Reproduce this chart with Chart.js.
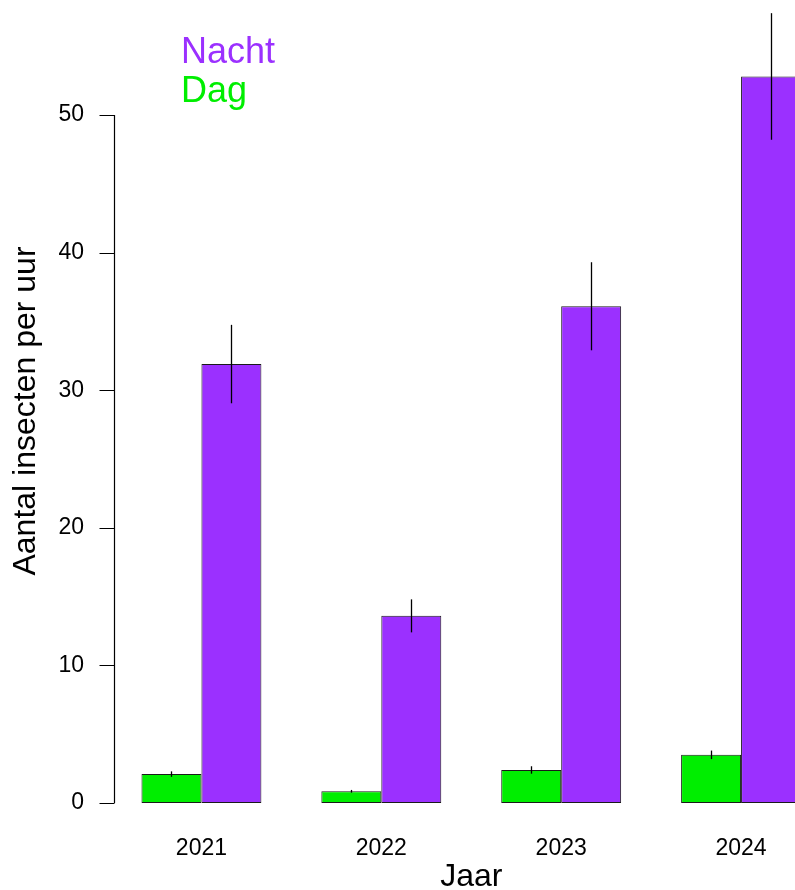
<!DOCTYPE html>
<html>
<head>
<meta charset="utf-8">
<title>Aantal insecten per uur</title>
<script src="https://cdn.jsdelivr.net/npm/chart.js@4/dist/chart.umd.min.js"></script>
<style>
  html, body { margin: 0; padding: 0; background: #fff; overflow: hidden; }
  #wrap { width: 840px; height: 890px; }
</style>
</head>
<body>
<div id="wrap"><canvas id="c" width="840" height="890"></canvas></div>
<script>
// Yearly means with standard errors, day vs night catches
const years = ['2021', '2022', '2023', '2024'];
const dagMean = [2.1, 0.85, 2.4, 3.5];
const dagSE = [0.2, 0.1, 0.27, 0.31];
const nachtMean = [31.9, 13.6, 36.1, 52.8];
const nachtSE = [2.85, 1.2, 3.2, 4.6];
const yTicks = [0, 10, 20, 30, 40, 50];

const dagColor = '#00EE00';
const nachtColor = '#9B30FF';
const FONT = "'Liberation Sans', Arial, Helvetica, sans-serif";

// R-style axis line, tick marks, error bars, y title and text legend
const baseGraphics = {
  id: 'baseGraphics',
  afterDatasetsDraw(chart) {
    const ctx = chart.ctx;
    const y = chart.scales.y;
    ctx.save();
    ctx.strokeStyle = '#000';
    ctx.lineWidth = 1.3;
    const seList = [dagSE, nachtSE];
    chart.data.datasets.forEach((ds, i) => {
      const meta = chart.getDatasetMeta(i);
      meta.data.forEach((bar, j) => {
        const v = ds.data[j];
        const se = seList[i][j];
        const x = Math.round(bar.x) + 0.5;
        ctx.beginPath();
        ctx.moveTo(x, y.getPixelForValue(v - se));
        ctx.lineTo(x, y.getPixelForValue(v + se));
        ctx.stroke();
      });
    });
    ctx.restore();
  },
  afterDraw(chart) {
    const ctx = chart.ctx;
    const y = chart.scales.y;
    const axisX = 114.5;
    ctx.save();
    ctx.strokeStyle = '#000';
    ctx.lineWidth = 1.2;
    ctx.beginPath();
    ctx.moveTo(axisX, y.getPixelForValue(yTicks[0]));
    ctx.lineTo(axisX, y.getPixelForValue(yTicks[yTicks.length - 1]));
    yTicks.forEach(t => {
      const py = Math.round(y.getPixelForValue(t)) + 0.5;
      ctx.moveTo(axisX, py);
      ctx.lineTo(axisX - 15, py);
    });
    ctx.stroke();

    // y axis title
    ctx.fillStyle = '#000';
    ctx.font = '32px ' + FONT;
    ctx.textAlign = 'center';
    ctx.textBaseline = 'middle';
    ctx.translate(26, 411);
    ctx.rotate(-Math.PI / 2);
    ctx.fillText('Aantal insecten per uur', 0, 0);
    ctx.restore();

    // legend: coloured text only
    ctx.save();
    ctx.font = '36px ' + FONT;
    ctx.textAlign = 'left';
    ctx.textBaseline = 'alphabetic';
    ctx.fillStyle = nachtColor;
    ctx.fillText(chart.data.datasets[1].label, 181, 63);
    ctx.fillStyle = dagColor;
    ctx.fillText(chart.data.datasets[0].label, 181, 102);
    ctx.restore();
  }
};

new Chart(document.getElementById('c'), {
  type: 'bar',
  data: {
    labels: years,
    datasets: [
      {
        label: 'Dag',
        data: dagMean,
        backgroundColor: dagColor,
        borderColor: '#1a1a1a',
        borderWidth: 1,
        borderSkipped: false,
        categoryPercentage: 120 / 180,
        barPercentage: 1
      },
      {
        label: 'Nacht',
        data: nachtMean,
        backgroundColor: nachtColor,
        borderColor: '#1a1a1a',
        borderWidth: 1,
        borderSkipped: false,
        categoryPercentage: 120 / 180,
        barPercentage: 1
      }
    ]
  },
  options: {
    responsive: false,
    animation: false,
    devicePixelRatio: 1,
    layout: { padding: { left: 0, right: 9, top: 0, bottom: 0 }, autoPadding: false },
    plugins: {
      legend: { display: false },
      tooltip: { enabled: false },
      title: { display: false }
    },
    scales: {
      x: {
        grid: { display: false, drawTicks: false },
        border: { display: false },
        ticks: {
          color: '#000',
          font: { family: FONT, size: 23 },
          padding: 32,
          maxRotation: 0
        },
        title: {
          display: true,
          text: 'Jaar',
          color: '#000',
          font: { family: FONT, size: 32, lineHeight: '26px' },
          padding: { top: 0, bottom: 0 }
        },
        afterFit(scale) {
          scale.height = 87;
          scale.paddingLeft = 0;
          scale.paddingRight = 0;
        }
      },
      y: {
        min: 0,
        max: 803 / 13.76,
        grid: { display: false, drawTicks: false },
        border: { display: false },
        ticks: {
          color: '#000',
          font: { family: FONT, size: 23 },
          padding: 27.5
        },
        afterBuildTicks(scale) {
          scale.ticks = yTicks.map(v => ({ value: v }));
        },
        afterFit(scale) {
          scale.width = 111.5;
          scale.paddingTop = 0;
          scale.paddingBottom = 0;
        }
      }
    }
  },
  plugins: [baseGraphics]
});
</script>
</body>
</html>
